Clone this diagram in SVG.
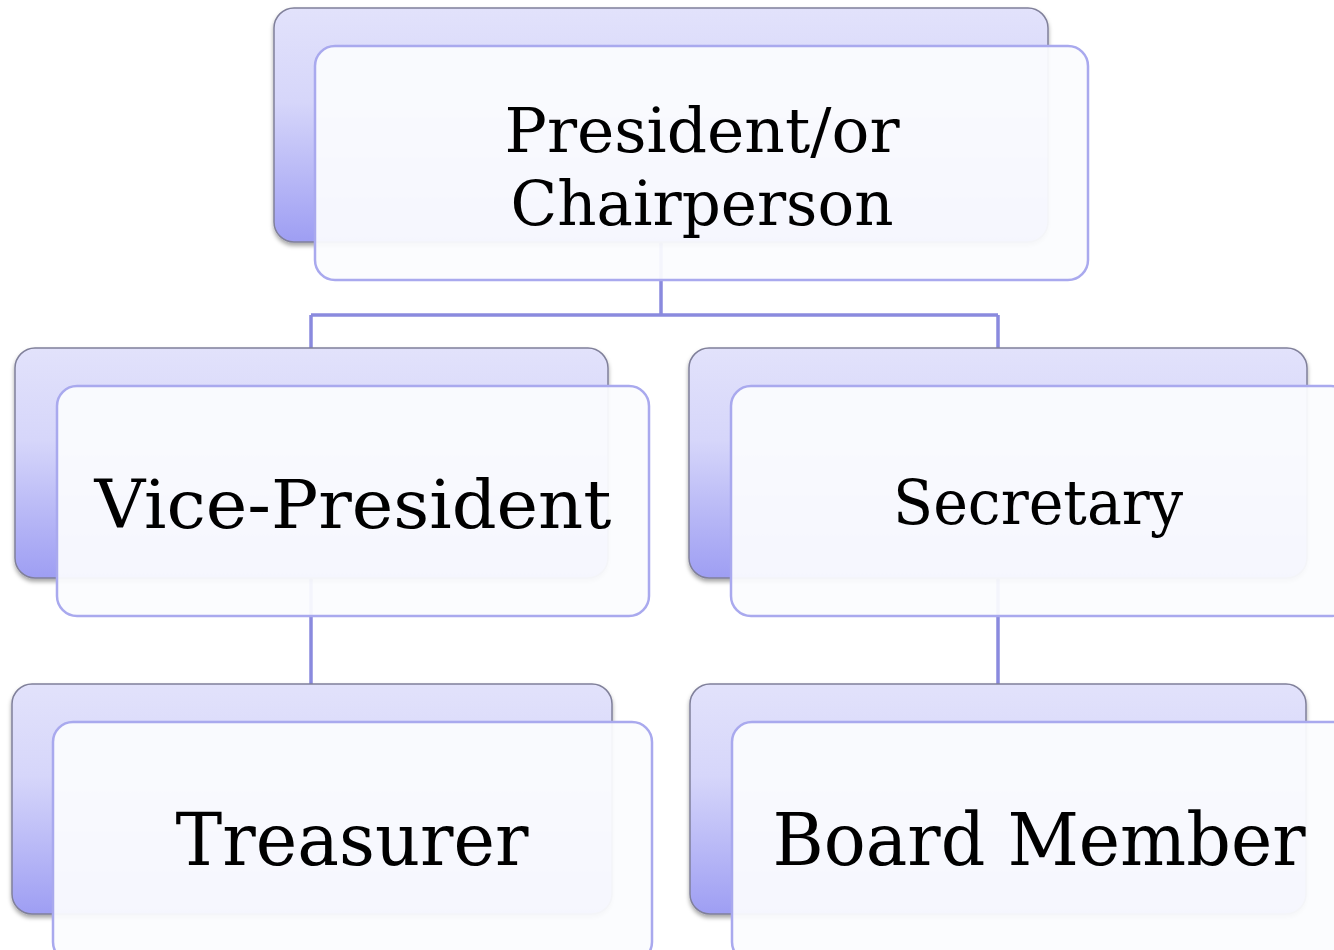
<svg xmlns="http://www.w3.org/2000/svg" width="1334" height="950" viewBox="0 0 1334 950">
<style>
.back{fill:url(#bg);stroke:#80809a;stroke-width:1.5;filter:url(#sh)}
.front{fill:#fbfcfe;fill-opacity:0.94;stroke:#a9a9ee;stroke-width:2.5}
.lbl{font-family:"DejaVu Serif","Liberation Serif",serif;fill:#000;text-anchor:middle}
.conn{fill:none;stroke:#8a8ade;stroke-width:3.5}
</style>
<defs>
<linearGradient id="bg" x1="0" y1="0" x2="0" y2="1">
<stop offset="0" stop-color="#e2e2fb"/>
<stop offset="0.4" stop-color="#d6d6fa"/>
<stop offset="1" stop-color="#9e9ef3"/>
</linearGradient>
<filter id="sh" x="-5%" y="-5%" width="110%" height="115%">
<feDropShadow dx="0" dy="3" stdDeviation="2" flood-color="#000" flood-opacity="0.35"/>
</filter>
</defs>
<rect width="1334" height="950" fill="#ffffff"/>
<g id="connectors">
<path class="conn" d="M661 242 V315 M311 315 H998 M311 315 V348 M998 315 V348 M311 578 V684 M998 578 V684"/>
</g>
<g id="node-president">
<rect class="back" x="274" y="8" width="774" height="234" rx="20"/>
<rect class="front" x="315" y="46" width="773" height="234" rx="20"/>
<text class="lbl" x="702" y="152" font-size="62" textLength="395" lengthAdjust="spacingAndGlyphs">President/or</text>
<text class="lbl" x="702" y="225" font-size="62" textLength="383" lengthAdjust="spacingAndGlyphs">Chairperson</text>
</g>
<g id="node-vice-president">
<rect class="back" x="15" y="348" width="593" height="230" rx="20"/>
<rect class="front" x="57" y="386" width="592" height="230" rx="20"/>
<text class="lbl" x="353" y="528" font-size="68" textLength="517" lengthAdjust="spacingAndGlyphs">Vice-President</text>
</g>
<g id="node-secretary">
<rect class="back" x="689" y="348" width="618" height="230" rx="20"/>
<rect class="front" x="731" y="386" width="620" height="230" rx="20"/>
<text class="lbl" x="1038" y="524" font-size="62" textLength="290" lengthAdjust="spacingAndGlyphs">Secretary</text>
</g>
<g id="node-treasurer">
<rect class="back" x="12" y="684" width="600" height="230" rx="20"/>
<rect class="front" x="53" y="722" width="599" height="240" rx="20"/>
<text class="lbl" x="352" y="865" font-size="72" textLength="353" lengthAdjust="spacingAndGlyphs">Treasurer</text>
</g>
<g id="node-board-member">
<rect class="back" x="690" y="684" width="616" height="230" rx="20"/>
<rect class="front" x="732" y="722" width="620" height="240" rx="20"/>
<text class="lbl" x="1039" y="865" font-size="72" textLength="533" lengthAdjust="spacingAndGlyphs">Board Member</text>
</g>
</svg>
